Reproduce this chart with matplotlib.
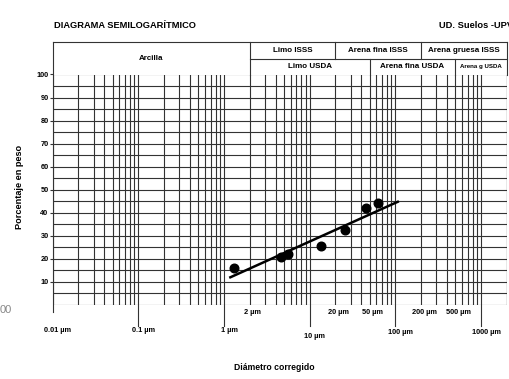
import matplotlib
matplotlib.use("Agg")
import numpy as np
import matplotlib.pyplot as plt

plt.rcParams['font.family'] = ['Liberation Sans Narrow', 'Liberation Sans', 'DejaVu Sans']

# measured samples: corrected diameter (um) vs cumulative percentage
diametro = [1.3, 4.6, 5.6, 13.5, 26, 46, 63]
porcentaje = [15.9, 21.0, 22.0, 25.7, 32.4, 42.0, 44.4]

# fitted trend line end points
recta_x = [1.15, 110]
recta_y = [11.8, 45.0]

# axis labels
dec_ticks = [0.01, 0.1, 1, 10, 100, 1000]
dec_labels = ['0.01 µm', '0.1 µm', '1 µm', '10 µm', '100 µm', '1000 µm']
mid_ticks = [2, 20, 50, 200, 500]
mid_labels = ['2 µm', '20 µm', '50 µm', '200 µm', '500 µm']
y_ticks = [10, 20, 30, 40, 50, 60, 70, 80, 90, 100]

# texture classes (upper row ISSS, lower row USDA)
isss_lim = [2, 20, 200, 2000]
isss_nom = ['Limo ISSS', 'Arena fina ISSS', 'Arena gruesa ISSS']
usda_lim = [2, 50, 500, 2000]
usda_nom = ['Limo USDA', 'Arena fina USDA', 'Arena g USDA']

W, H = 509, 379
fig = plt.figure(figsize=(W / 100, H / 100), dpi=100)
x0, x1 = 52.7, 506.8
y0, y1 = 305.0, 74.5
ax = fig.add_axes([x0 / W, (H - y0) / H, (x1 - x0) / W, (y0 - y1) / H])
ax.set_xscale('log')
ax.set_xlim(0.01, 2000)
ax.set_ylim(0, 100)
for s in ax.spines.values():
    s.set_visible(False)

px = 1.0 / (y0 - y1)  # one pixel in axes-y units
gc = '#333333'
lw = 0.8
fs_head = 5.8
fs_tick = 5.3

# log grid
xs = [k * 10.0 ** e for e in range(-2, 4) for k in range(1, 10) if k * 10.0 ** e <= 2000]
ax.vlines(xs, 0, 100, color=gc, lw=lw)
ax.vlines([2000], 0, 100, color=gc, lw=lw)
ax.hlines(np.arange(0, 101, 5), 0.01, 2000, color=gc, lw=lw)

tr = ax.get_xaxis_transform()

# frame and header boxes
ytop = (y0 - 42) * px
ymid = (y0 - 59.3) * px
ax.plot([0.01, 0.01], [-7 * px, ytop], color=gc, lw=lw, transform=tr, clip_on=False)
ax.plot([2000, 2000], [1, ytop], color=gc, lw=lw, transform=tr, clip_on=False)
ax.plot([0.01, 2000], [ytop, ytop], color=gc, lw=lw, transform=tr, clip_on=False)
ax.plot([2, 2000], [ymid, ymid], color=gc, lw=lw, transform=tr, clip_on=False)
ax.plot([2, 2], [1, ytop], color=gc, lw=lw, transform=tr, clip_on=False)
for v in isss_lim[1:-1]:
    ax.plot([v, v], [ymid, ytop], color=gc, lw=lw, transform=tr, clip_on=False)
for v in usda_lim[1:-1]:
    ax.plot([v, v], [1, ymid], color=gc, lw=lw, transform=tr, clip_on=False)

ax.text(np.sqrt(0.01 * 2), (1 + ytop) / 2, 'Arcilla', transform=tr, ha='center',
        va='center', fontsize=fs_head, fontweight='bold')
for i, nom in enumerate(isss_nom):
    xc = np.sqrt(isss_lim[i] * isss_lim[i + 1])
    ax.text(xc, (ymid + ytop) / 2, nom, transform=tr, ha='center', va='center',
            fontsize=fs_head, fontweight='bold')
for i, nom in enumerate(usda_nom):
    xc = np.sqrt(usda_lim[i] * usda_lim[i + 1])
    fs = fs_head if i < 2 else 4.4
    ax.text(xc, (1 + ymid) / 2, nom, transform=tr, ha='center', va='center',
            fontsize=fs, fontweight='bold')

# decade ticks below the axis
for v, lab in zip(dec_ticks, dec_labels):
    if v > 0.01:
        ax.plot([v, v], [0, -21 * px], color=gc, lw=lw, transform=tr, clip_on=False)
    yl = -32 * px if v == 10 else (-27 * px if v >= 100 else -25 * px)
    ax.annotate(lab, (v, yl), xycoords=tr, xytext=(5, 0), textcoords='offset pixels',
                ha='center', va='center', fontsize=fs_tick, fontweight='bold')
for v, lab in zip(mid_ticks, mid_labels):
    ax.annotate(lab, (v, -8 * px), xycoords=tr, xytext=(3, 0), textcoords='offset pixels',
                ha='center', va='center', fontsize=fs_tick, fontweight='bold')

ax.set_xticks([])
ax.set_xticks([], minor=True)
ax.set_yticks(y_ticks)
ax.set_yticklabels([str(t) for t in y_ticks], fontsize=fs_tick, fontweight='bold')
ax.tick_params(axis='y', length=2.5, width=lw, color=gc, pad=0.5)

# data and trend
ax.plot(recta_x, recta_y, color='black', lw=1.8, solid_capstyle='butt', zorder=4)
ax.plot(diametro, porcentaje, 'o', color='black', ms=6.2, zorder=5)

fig.text(54 / W, 1 - 26 / H, 'DIAGRAMA SEMILOGARÍTMICO', ha='left', va='center',
         fontsize=6.7, fontweight='bold')
fig.text(439 / W, 1 - 26 / H, 'UD. Suelos -UPV', ha='left', va='center',
         fontsize=6.7, fontweight='bold')
fig.text(20 / W, 1 - 187 / H, 'Porcentaje en peso', rotation=90, ha='center',
         va='center', fontsize=6.6, fontweight='bold')
fig.text(274 / W, 1 - 368 / H, 'Diámetro corregido', ha='center', va='center',
         fontsize=6.2, fontweight='bold')
fig.text(0, 1 - 310 / H, '00', ha='left', va='center', fontsize=8, color='#888888')

fig.savefig('out.png', dpi=100)
